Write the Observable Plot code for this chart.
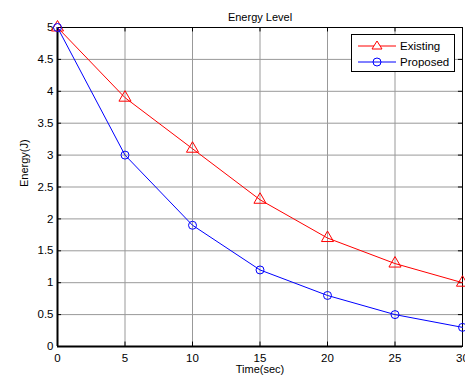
<!DOCTYPE html>
<html>
<head>
<meta charset="utf-8">
<script src="https://cdn.jsdelivr.net/npm/d3@7"></script>
<script src="https://cdn.jsdelivr.net/npm/@observablehq/plot@0.6"></script>
<style>
  html, body { margin: 0; padding: 0; background: #fff; }
  #wrap { position: relative; width: 465px; height: 379px; font-family: "Liberation Sans", Arial, sans-serif; }
  #legend { position: absolute; left: 351px; top: 34px; width: 102px; height: 36px; border: 1px solid #000; background: #fff; font-size: 11.5px; }
  #legend .row { position: absolute; left: 0; height: 16px; display: flex; align-items: center; }
  #legend svg { display: block; }
  #legend span { margin-left: 4px; color: #000; }
</style>
</head>
<body>
<div id="wrap"></div>
<script>
const time = [0, 5, 10, 15, 20, 25, 30];
const existing = [5, 3.9, 3.1, 2.3, 1.7, 1.3, 1.0];
const proposed = [5, 3.0, 1.9, 1.2, 0.8, 0.5, 0.3];
const xTicks = [0, 5, 10, 15, 20, 25, 30];
const yTicks = [0, 0.5, 1, 1.5, 2, 2.5, 3, 3.5, 4, 4.5, 5];
const seriesNames = ["Existing", "Proposed"];
const seriesColors = ["#ff0000", "#0000ff"];
const title = "Energy Level";
const xLabel = "Time(sec)";
const yLabel = "Energy(J)";

const rowsE = time.map((t, i) => ({t, v: existing[i]}));
const rowsP = time.map((t, i) => ({t, v: proposed[i]}));

const chart = Plot.plot({
  width: 465,
  height: 379,
  marginLeft: 57,
  marginRight: 3,
  marginTop: 27,
  marginBottom: 33,
  style: {fontFamily: "Liberation Sans, Arial, sans-serif", fontSize: "11px", color: "#000", background: "#fff"},
  x: {domain: [0, 30]},
  y: {domain: [0, 5]},
  marks: [
    Plot.gridX(xTicks, {stroke: "#999999", strokeOpacity: 1, strokeWidth: 1}),
    Plot.gridY(yTicks, {stroke: "#999999", strokeOpacity: 1, strokeWidth: 1}),
    Plot.axisX(xTicks, {tickSize: 0, tickPadding: 7, label: null, tickFormat: d => String(d), fontSize: 11.5}),
    Plot.axisY(yTicks, {tickSize: 0, tickPadding: 4, label: null, tickFormat: d => String(d), fontSize: 11.5}),
    Plot.ruleX(xTicks, {x: d => d, y1: 0, y2: 0.07, stroke: "#000"}),
    Plot.ruleX(xTicks, {x: d => d, y1: 4.93, y2: 5, stroke: "#000"}),
    Plot.ruleY(yTicks, {y: d => d, x1: 0, x2: 0.3, stroke: "#000"}),
    Plot.ruleY(yTicks, {y: d => d, x1: 29.7, x2: 30, stroke: "#000"}),
    Plot.frame({stroke: "#000", strokeWidth: 1}),
    Plot.ruleX([0], {stroke: "#000", strokeWidth: 2}),
    Plot.ruleY([0], {stroke: "#000", strokeWidth: 2}),
    Plot.line(rowsE, {x: "t", y: "v", stroke: seriesColors[0], strokeWidth: 1}),
    Plot.dot(rowsE, {x: "t", y: "v", stroke: seriesColors[0], symbol: "triangle", r: 4.5, fill: "none", strokeWidth: 1}),
    Plot.line(rowsP, {x: "t", y: "v", stroke: seriesColors[1], strokeWidth: 1}),
    Plot.dot(rowsP, {x: "t", y: "v", stroke: seriesColors[1], symbol: "circle", r: 4, fill: "none", strokeWidth: 1}),
    Plot.text([title], {frameAnchor: "top", dy: -14, text: d => d, fontSize: 11, fill: "#000"}),
    Plot.text([xLabel], {frameAnchor: "bottom", dy: 26, text: d => d, fontSize: 11, fill: "#000"}),
    Plot.text([yLabel], {frameAnchor: "left", dx: -33, rotate: -90, text: d => d, fontSize: 11, fill: "#000"})
  ]
});

const wrap = document.getElementById("wrap");
wrap.appendChild(chart);

const legend = document.createElement("div");
legend.id = "legend";
const symbols = [
  '<path d="M19,3 L24,11 L14,11 Z" fill="#fff" stroke="#ff0000" stroke-width="1"/>',
  '<circle cx="19" cy="8" r="4" fill="none" stroke="#0000ff" stroke-width="1"/>'
];
seriesNames.forEach((name, i) => {
  const row = document.createElement("div");
  row.className = "row";
  row.style.top = (3 + i * 16) + "px";
  row.style.left = "6px";
  row.innerHTML = `<svg width="38" height="16"><line x1="0" y1="8" x2="38" y2="8" stroke="${seriesColors[i]}" stroke-width="1"/>${symbols[i]}</svg><span>${name}</span>`;
  legend.appendChild(row);
});
wrap.appendChild(legend);
</script>
</body>
</html>
